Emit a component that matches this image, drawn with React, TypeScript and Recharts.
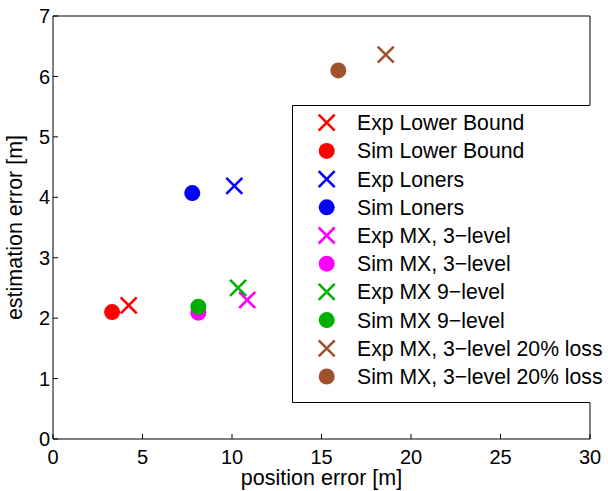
import { ScatterChart, Scatter, XAxis, YAxis, Legend, Label } from 'recharts';

// values
const seriesNames = [
  'Exp Lower Bound',
  'Sim Lower Bound',
  'Exp Loners',
  'Sim Loners',
  'Exp MX, 3−level',
  'Sim MX, 3−level',
  'Exp MX 9−level',
  'Sim MX 9−level',
  'Exp MX, 3−level 20% loss',
  'Sim MX, 3−level 20% loss',
];
const seriesColors = [
  '#ff0000', '#ff0000',
  '#0000ff', '#0000ff',
  '#ff00ff', '#ff00ff',
  '#00b000', '#00b000',
  '#a0522d', '#a0522d',
];
const seriesMarkers = ['x', 'o', 'x', 'o', 'x', 'o', 'x', 'o', 'x', 'o'];
const positionErrors = [4.23, 3.3, 10.13, 7.78, 10.85, 8.12, 10.34, 8.12, 18.59, 15.94];
const estimationErrors = [2.21, 2.1, 4.19, 4.07, 2.3, 2.09, 2.5, 2.19, 6.36, 6.1];

const xTicks = [0, 5, 10, 15, 20, 25, 30];
const yTicks = [0, 1, 2, 3, 4, 5, 6, 7];

const FONT = '"Liberation Sans", Arial, Helvetica, sans-serif';

const series = seriesNames.map((name, i) => ({
  name,
  color: seriesColors[i],
  marker: seriesMarkers[i],
  data: [{ x: positionErrors[i], y: estimationErrors[i] }],
}));

function Marker({ cx, cy, color, marker }: { cx: number; cy: number; color: string; marker: string }) {
  if (marker === 'o') {
    return <circle cx={cx} cy={cy} r={8} fill={color} />;
  }
  const h = 8;
  return (
    <path
      d={`M${cx - h},${cy - h}L${cx + h},${cy + h}M${cx - h},${cy + h}L${cx + h},${cy - h}`}
      stroke={color}
      strokeWidth={2.6}
      fill="none"
    />
  );
}

// tick marks only, no label (box axes on top / right)
const NoLabel = () => <g />;

function LegendBox() {
  const w = 316;
  const h = 298;
  const edge = 298; // border stops where the right axis line sits
  return (
    <svg width={w} height={h} style={{ display: 'block', overflow: 'visible' }}>
      <rect x={0} y={0} width={w} height={h} fill="#fff" />
      <path d={`M${edge},0.5H0.5V${h - 0.5}H${edge}`} stroke="#000" strokeWidth={1} fill="none" />
      {series.map((s, i) => {
        const cy = 17.7 + i * 28.2;
        return (
          <g key={s.name}>
            <Marker cx={34.7} cy={cy} color={s.color} marker={s.marker} />
            <text x={65} y={cy + 7.5} fontSize={21.2} fontFamily={FONT} fill="#000">
              {s.name}
            </text>
          </g>
        );
      })}
    </svg>
  );
}

export default function App() {
  return (
    <div style={{ position: 'absolute', left: 0, top: 0, background: '#fff' }}>
      <ScatterChart
        width={608}
        height={491}
        margin={{ top: 15, right: 17, bottom: 0, left: 0 }}
        style={{ fontFamily: FONT }}
      >
        <XAxis
          type="number"
          dataKey="x"
          domain={[0, 30]}
          ticks={xTicks}
          height={52}
          stroke="#000"
          tickSize={-5}
          tickMargin={16}
          tick={{ fill: '#000', fontSize: 20 }}
          allowDataOverflow
        >
          <Label value="position error [m]" position="insideBottom" offset={6} fill="#000" fontSize={21.5} />
        </XAxis>
        <YAxis
          type="number"
          dataKey="y"
          domain={[0, 7]}
          ticks={yTicks}
          width={53}
          stroke="#000"
          tickSize={-5}
          tickMargin={8}
          tick={{ fill: '#000', fontSize: 20 }}
          allowDataOverflow
        >
          <Label
            value="estimation error [m]"
            angle={-90}
            position="insideLeft"
            offset={14}
            fill="#000"
            fontSize={21.5}
            style={{ textAnchor: 'middle' }}
          />
        </YAxis>
        <XAxis
          xAxisId="top"
          orientation="top"
          type="number"
          domain={[0, 30]}
          ticks={xTicks}
          height={1}
          stroke="#000"
          tickSize={-5}
          tick={NoLabel}
        />
        <YAxis
          yAxisId="right"
          orientation="right"
          type="number"
          domain={[0, 7]}
          ticks={yTicks}
          width={1}
          stroke="#000"
          tickSize={-5}
          tick={NoLabel}
        />
        {series.map((s) => (
          <Scatter
            key={s.name}
            name={s.name}
            data={s.data}
            fill={s.color}
            isAnimationActive={false}
            shape={(p: any) => <Marker cx={p.cx} cy={p.cy} color={s.color} marker={s.marker} />}
          />
        ))}
        <Legend
          layout="vertical"
          align="center"
          verticalAlign="middle"
          wrapperStyle={{ position: 'absolute', left: 292, top: 105, width: 316, height: 298 }}
          content={() => <LegendBox />}
        />
      </ScatterChart>
    </div>
  );
}
